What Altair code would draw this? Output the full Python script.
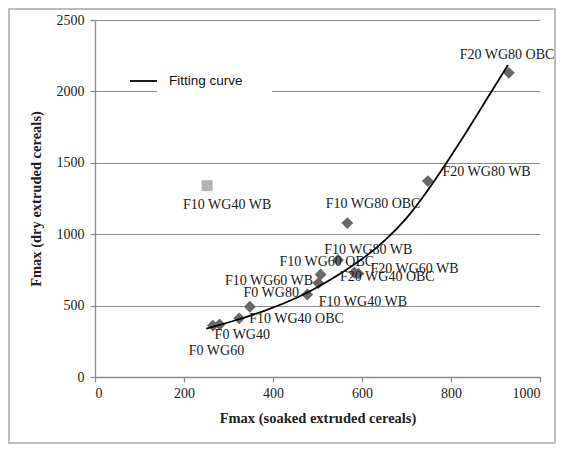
import altair as alt
import pandas as pd

# ---- data ----
names = ["F0 WG60", "F0 WG40", "F10 WG40 OBC", "F0 WG80", "F10 WG40 WB",
         "F10 WG60 WB", "F10 WG60 OBC", "F10 WG80 WB", "F20 WG40 OBC",
         "F20 WG60 WB", "F10 WG80 OBC", "F20 WG80 WB", "F20 WG80 OBC"]
soaked = [265, 280, 324, 348, 477, 502, 507, 546, 583, 592, 567, 748, 930]
dry = [360, 368, 411, 492, 578, 658, 718, 820, 732, 724, 1078, 1372, 2130]
label_x = [273, 331, 453, 396, 602, 391, 521, 614, 657, 718, 625, 880, 926]
label_y = [185, 295, 405, 588, 522, 674, 808, 892, 700, 756, 1208, 1435, 2255]

outlier_names = ["F10 WG40 WB"]
outlier_soaked = [252]
outlier_dry = [1340]
outlier_label_x = [297]
outlier_label_y = [1203]

curve_x = [250, 310, 385, 460, 510, 558, 610, 652, 700, 742, 783, 835, 880, 928]
curve_y = [338, 390, 465, 560, 645, 735, 845, 955, 1105, 1280, 1465, 1715, 1945, 2185]

x_ticks = [0, 200, 400, 600, 800, 1000]
y_ticks = [0, 500, 1000, 1500, 2000, 2500]

pts = pd.DataFrame({"name": names, "soaked": soaked, "dry": dry,
                    "lx": label_x, "ly": label_y})
out = pd.DataFrame({"name": outlier_names, "soaked": outlier_soaked,
                    "dry": outlier_dry, "lx": outlier_label_x,
                    "ly": outlier_label_y})
curve = pd.DataFrame({"soaked": curve_x, "dry": curve_y})

SERIF = "Liberation Serif"

xs = alt.Scale(domain=[0, 1000], nice=False)
ys = alt.Scale(domain=[0, 2500], nice=False)

xaxis = alt.Axis(values=x_ticks, format="d", title="Fmax (soaked extruded cereals)", grid=False)
yaxis = alt.Axis(values=y_ticks, format="d", title="Fmax (dry extruded cereals)", grid=True)

base_x = alt.X("soaked:Q", scale=xs, axis=xaxis)
base_y = alt.Y("dry:Q", scale=ys, axis=yaxis)

border = alt.Chart(pd.DataFrame({"a": [0]})).mark_rect(
    fill="white", fillOpacity=0, stroke="#a8a8a8", strokeWidth=1.5
).encode(x=alt.value(-86), x2=alt.value(460), y=alt.value(-11), y2=alt.value(423))

legend_bg = alt.Chart(pd.DataFrame({"a": [0]})).mark_rect(
    fill="white"
).encode(x=alt.value(62), x2=alt.value(177), y=alt.value(48), y2=alt.value(85))

legend_line = alt.Chart(pd.DataFrame({"a": [0]})).mark_rule(
    color="black", strokeWidth=1.8
).encode(x=alt.value(35), x2=alt.value(62), y=alt.value(61))

legend_text = alt.Chart(pd.DataFrame({"t": ["Fitting curve"]})).mark_text(
    font="Liberation Sans", fontSize=13.5, color="#111", align="left", baseline="middle"
).encode(x=alt.value(74), y=alt.value(61), text="t:N")

line = alt.Chart(curve).mark_line(
    color="black", strokeWidth=1.8, interpolate="basis"
).encode(x=base_x, y=base_y)

diamonds = alt.Chart(pts).mark_point(
    shape="diamond", filled=True, size=140, color="#676767", opacity=1
).encode(x=base_x, y=base_y)

square = alt.Chart(out).mark_point(
    shape="square", filled=True, size=120, color="#b2b2b2", opacity=1
).encode(x=base_x, y=base_y)

lab = alt.Chart(pts).mark_text(
    font=SERIF, fontSize=14, color="#1a1a1a", align="center", baseline="middle"
).encode(x=alt.X("lx:Q", scale=xs), y=alt.Y("ly:Q", scale=ys), text="name:N")

lab2 = alt.Chart(out).mark_text(
    font=SERIF, fontSize=14, color="#1a1a1a", align="center", baseline="middle"
).encode(x=alt.X("lx:Q", scale=xs), y=alt.Y("ly:Q", scale=ys), text="name:N")

chart = alt.layer(
    border, diamonds, square, line, legend_bg, legend_line, legend_text, lab, lab2
).properties(
    width=445, height=357,
    autosize=alt.AutoSizeParams(type="none"),
    padding={"left": 87, "top": 12, "right": 17, "bottom": 67},
).configure_view(
    strokeWidth=0
).configure_axis(
    domainColor="#8c8c8c", domainWidth=1.3,
    tickColor="#8c8c8c", tickWidth=1.3, tickSize=5,
    gridColor="#8c8c8c", gridWidth=1.2,
    labelFont=SERIF, labelFontSize=14, labelColor="#222",
    titleFont=SERIF, titleFontSize=14.5, titleFontWeight="bold", titleColor="#222",
).configure_axisX(
    labelPadding=4, titlePadding=11
).configure_axisY(
    labelPadding=6, titlePadding=13
)

chart.save("out.html", embed_options={"renderer": "svg", "actions": False})
